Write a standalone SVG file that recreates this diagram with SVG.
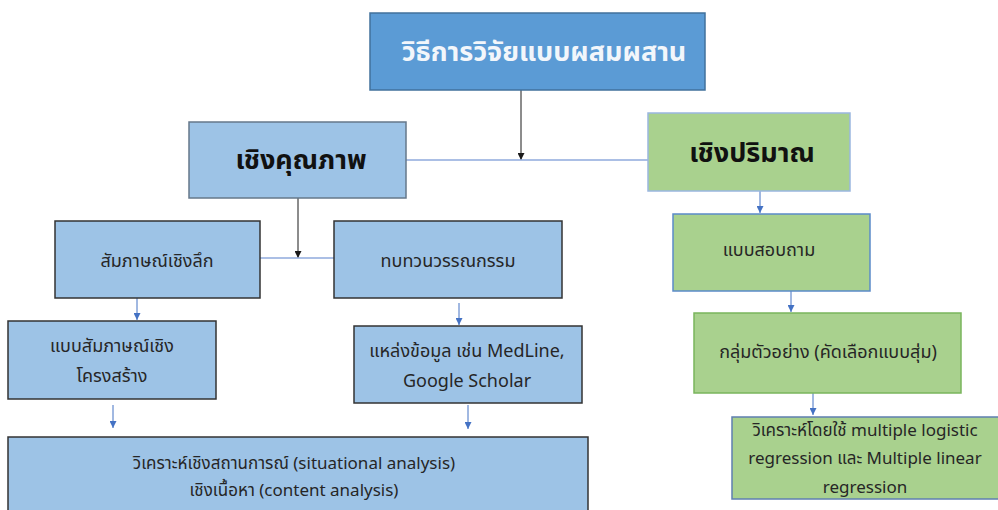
<svg xmlns="http://www.w3.org/2000/svg" width="998" height="510" viewBox="0 0 998 510">
<defs>
<marker id="ab" viewBox="0 0 10 10" refX="10" refY="5" markerWidth="7" markerHeight="7" orient="auto" markerUnits="userSpaceOnUse">
<path d="M0,0 L10,5 L0,10 z" fill="#1a1a1a"/>
</marker>
<marker id="abl" viewBox="0 0 10 10" refX="10" refY="5" markerWidth="7" markerHeight="7" orient="auto" markerUnits="userSpaceOnUse">
<path d="M0,0 L10,5 L0,10 z" fill="#4472c4"/>
</marker>
<style>
text{font-family:"Noto Sans Thai","Noto Sans","Liberation Sans",sans-serif;text-anchor:middle;fill:#262626}
.t{font-size:17px}
.t2{font-size:18px}
.big{font-size:27px;font-weight:bold;fill:#111}
.title{font-size:27px;font-weight:bold;fill:#f2f6fb}
.blue{fill:#9dc3e6}
.green{fill:#a9d18e}
.k{stroke:#1a1a1a;stroke-width:1;fill:none}
.lb{stroke:#8faadc;stroke-width:1.5;fill:none}
.ab{stroke:#4472c4;stroke-width:1;fill:none}
</style>
</defs>
<g id="connectors">
<path class="k" d="M521,90 V160" marker-end="url(#ab)"/>
<path class="lb" d="M406,160 H648"/>
<path class="k" d="M298,198 V258" marker-end="url(#ab)"/>
<path class="lb" d="M260,258 H334"/>
<path class="ab" d="M137,298 V320" marker-end="url(#abl)"/>
<path class="ab" d="M459,303 V325" marker-end="url(#abl)"/>
<path class="ab" d="M113,405 V428" marker-end="url(#abl)"/>
<path class="ab" d="M468,405 V429" marker-end="url(#abl)"/>
<path class="ab" d="M760,191 V213" marker-end="url(#abl)"/>
<path class="ab" d="M791,291 V312" marker-end="url(#abl)"/>
<path class="ab" d="M813,393 V415" marker-end="url(#abl)"/>
</g>
<g id="n-mixed">
<rect x="370" y="13" width="335" height="77" fill="#5b9bd5" stroke="#41719c" stroke-width="1.5"/>
<text class="title" x="544" y="61">วิธีการวิจัยแบบผสมผสาน</text>
</g>
<g id="n-qual">
<rect x="189" y="122" width="217" height="76" class="blue" stroke="#66788a" stroke-width="1.5"/>
<text class="big" x="301" y="169">เชิงคุณภาพ</text>
</g>
<g id="n-quant">
<rect x="648" y="113" width="202" height="78" class="green" stroke="#9ab7e0" stroke-width="1.5"/>
<text class="big" x="752" y="162">เชิงปริมาณ</text>
</g>
<g id="n-interview">
<rect x="55" y="221" width="205" height="77" class="blue" stroke="#333" stroke-width="1.5"/>
<text class="t2" x="157" y="267">สัมภาษณ์เชิงลึก</text>
</g>
<g id="n-review">
<rect x="334" y="221" width="228" height="77" class="blue" stroke="#333" stroke-width="1.5"/>
<text class="t2" x="448" y="267">ทบทวนวรรณกรรม</text>
</g>
<g id="n-structured">
<rect x="8" y="321" width="208" height="78" class="blue" stroke="#333" stroke-width="1.5"/>
<text class="t2" x="112" y="352">แบบสัมภาษณ์เชิง</text>
<text class="t2" x="112" y="382">โครงสร้าง</text>
</g>
<g id="n-sources">
<rect x="354" y="326" width="228" height="77" class="blue" stroke="#333" stroke-width="1.5"/>
<text class="t2" x="467" y="357">แหล่งข้อมูล เช่น MedLine,</text>
<text class="t2" x="467" y="387">Google Scholar</text>
</g>
<g id="n-analysis">
<rect x="8" y="437" width="580" height="80" class="blue" stroke="#333" stroke-width="1.5"/>
<text class="t" x="294" y="469">วิเคราะห์เชิงสถานการณ์ (situational analysis)</text>
<text class="t" x="294" y="496">เชิงเนื้อหา (content analysis)</text>
</g>
<g id="n-questionnaire">
<rect x="673" y="214" width="197" height="77" class="green" stroke="#5b8bc9" stroke-width="1.5"/>
<text class="t2" x="769" y="256">แบบสอบถาม</text>
</g>
<g id="n-sample">
<rect x="694" y="313" width="267" height="80" class="green" stroke="#7ab55c" stroke-width="1.5"/>
<text class="t2" x="828" y="358">กลุ่มตัวอย่าง (คัดเลือกแบบสุ่ม)</text>
</g>
<g id="n-regression">
<rect x="732" y="417" width="280" height="82" class="green" stroke="#5f7fb0" stroke-width="1.5"/>
<text class="t" x="865" y="436">วิเคราะห์โดยใช้ multiple logistic</text>
<text class="t" x="865" y="464">regression และ Multiple linear</text>
<text class="t" x="865" y="493">regression</text>
</g>
</svg>
